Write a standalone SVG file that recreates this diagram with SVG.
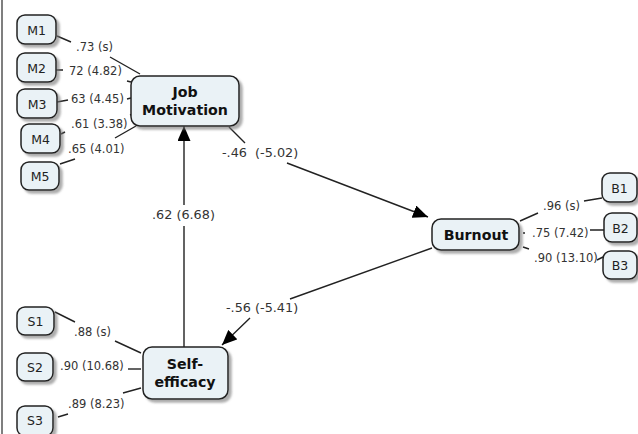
<svg xmlns="http://www.w3.org/2000/svg" width="638" height="434" viewBox="0 0 638 434">
<style>
.box{fill:#eaf2f6;stroke:#222;stroke-width:1.5;filter:url(#sh)}
.nl{font-family:"DejaVu Sans",Verdana,sans-serif;font-size:12.5px;fill:#222;text-anchor:middle}
.bl{font-family:"DejaVu Sans",Verdana,sans-serif;font-size:14.2px;font-weight:bold;fill:#111;text-anchor:middle}
.il{font-family:"DejaVu Sans",Verdana,sans-serif;font-size:11.5px;fill:#333}
.pl{font-family:"DejaVu Sans",Verdana,sans-serif;font-size:12.8px;fill:#333}
.c{fill:none;stroke:#222;stroke-width:1.4}
.a{marker-end:url(#arr)}
</style>
<defs>
<filter id="sh" x="-20%" y="-20%" width="150%" height="150%">
<feDropShadow dx="3" dy="3" stdDeviation="1.2" flood-color="#777" flood-opacity="0.6"/>
</filter>
<marker id="arr" markerUnits="userSpaceOnUse" markerWidth="16" markerHeight="13" refX="15" refY="6.5" orient="auto">
<path d="M0,0 L15,6.5 L0,13 z" fill="#000"/>
</marker>
</defs>
<rect width="638" height="434" fill="#fff"/>
<line x1="2" y1="0" x2="2" y2="434" stroke="#555" stroke-width="1.5"/>

<g id="connectors">
<path class="c" d="M57,36 L71,42 M110,57 L140,74"/>
<path class="c" d="M56,70 L63,70 M127,81 L131,82"/>
<path class="c" d="M57,102 L68,100 M127,99 L131,98"/>
<path class="c" d="M61,134 L65,132 M130,115 L133,114"/>
<path class="c" d="M60,164 L75,159 M115,138 L136,126"/>
<path class="c" d="M55,312 L75,322 M115,341 L141,353"/>
<path class="c" d="M128,369 L141,369"/>
<path class="c" d="M58,417 L68,414 M123,393 L141,388"/>
<path class="c" d="M520,221 L538,213 M584,201 L602,198"/>
<path class="c" d="M523,233 L525,233 M590,230 L604,230"/>
<path class="c" d="M523,247 L529,249 M597,260 L603,257"/>
<path class="c a" d="M229,127 L245,143 M287,163 L428,217"/>
<path class="c a" d="M432,248 L290,299 M250,318 L222,345"/>
<path class="c a" d="M184,347 L184,226 M184,205 L184,126"/>
</g>

<g id="labels">
<text class="il" x="76" y="51">.73 (s)</text>
<text class="il" x="69" y="75">72 (4.82)</text>
<text class="il" x="71" y="103">63 (4.45)</text>
<text class="il" x="71" y="128">.61 (3.38)</text>
<text class="il" x="68" y="153">.65 (4.01)</text>
<text class="il" x="74" y="336">.88 (s)</text>
<text class="il" x="60" y="370">.90 (10.68)</text>
<text class="il" x="68" y="408">.89 (8.23)</text>
<text class="il" x="543" y="210">.96 (s)</text>
<text class="il" x="532" y="237">.75 (7.42)</text>
<text class="il" x="534" y="262">.90 (13.10)</text>
<text class="pl" x="222" y="157">-.46&#160; (-5.02)</text>
<text class="pl" x="152" y="219">.62 (6.68)</text>
<text class="pl" x="226" y="312">-.56 (-5.41)</text>
</g>

<g id="M1"><rect class="box" x="17" y="15" width="39" height="29" rx="8"/><text class="nl" x="36.5" y="34.5">M1</text></g>
<g id="M2"><rect class="box" x="17" y="53" width="39" height="29" rx="8"/><text class="nl" x="36.5" y="72.5">M2</text></g>
<g id="M3"><rect class="box" x="17" y="89" width="40" height="29" rx="8"/><text class="nl" x="37" y="108.5">M3</text></g>
<g id="M4"><rect class="box" x="21" y="124" width="39" height="29" rx="8"/><text class="nl" x="40.5" y="143.5">M4</text></g>
<g id="M5"><rect class="box" x="21" y="162" width="38" height="28" rx="8"/><text class="nl" x="40" y="180.5">M5</text></g>
<g id="S1"><rect class="box" x="17" y="307" width="37" height="28" rx="8"/><text class="nl" x="35.5" y="325.5">S1</text></g>
<g id="S2"><rect class="box" x="17" y="353" width="36" height="28" rx="8"/><text class="nl" x="35" y="371.5">S2</text></g>
<g id="S3"><rect class="box" x="17" y="406" width="36" height="30" rx="8"/><text class="nl" x="35" y="425">S3</text></g>
<g id="B1"><rect class="box" x="602" y="173" width="35" height="29" rx="8"/><text class="nl" x="619.5" y="192.5">B1</text></g>
<g id="B2"><rect class="box" x="604" y="213" width="33" height="29" rx="8"/><text class="nl" x="620.5" y="232.5">B2</text></g>
<g id="B3"><rect class="box" x="603" y="251" width="34" height="28" rx="8"/><text class="nl" x="620" y="270">B3</text></g>
<g id="JobMotivation"><rect class="box" x="131" y="76" width="108" height="50" rx="9"/><text class="bl" x="185" y="97">Job</text><text class="bl" x="185" y="115">Motivation</text></g>
<g id="Burnout"><rect class="box" x="432" y="219" width="87" height="31" rx="9"/><text class="bl" x="476" y="240">Burnout</text></g>
<g id="SelfEfficacy"><rect class="box" x="143" y="347" width="85" height="52" rx="9"/><text class="bl" x="185" y="369">Self-</text><text class="bl" x="185" y="387">efficacy</text></g>
</svg>
